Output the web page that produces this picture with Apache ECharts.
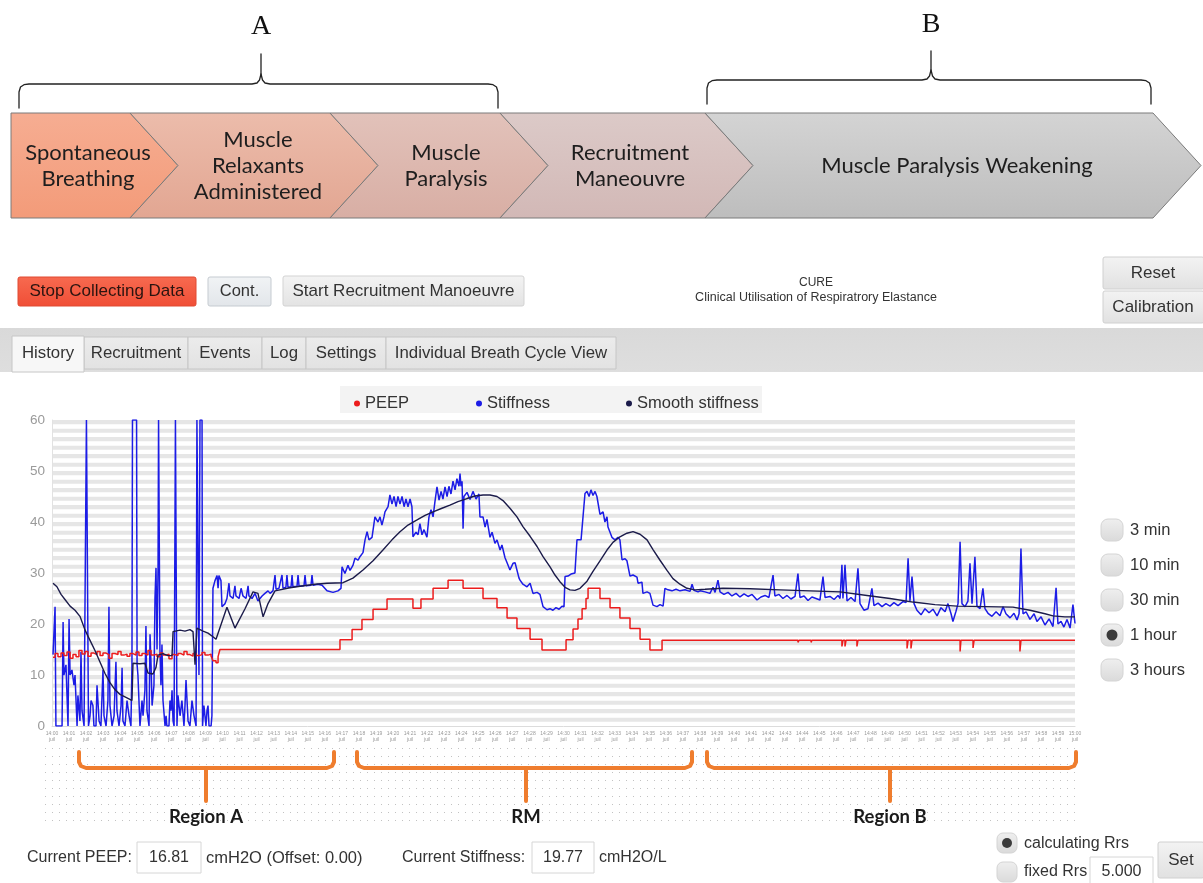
<!DOCTYPE html>
<html><head><meta charset="utf-8">
<script src="https://cdn.jsdelivr.net/npm/echarts@6/dist/echarts.min.js"></script>
<style>html,body{margin:0;padding:0;background:#fff}#c{width:1203px;height:883px}</style>
</head><body><div id="c"></div><script>
// ---------------- DATA (x = minutes into the 1-hour window, y = cmH2O or cmH2O/L) ----------------
const yTicks = [0, 10, 20, 30, 40, 50, 60];
const seriesNames = ['PEEP', 'Stiffness', 'Smooth stiffness'];

const stiffRegionA = [[0.06,14],[0.18,23.4],[0.23,0],[0.59,0],[0.65,20.4],[0.70,10],[0.82,12],[0.94,0],[1.00,21],[1.06,10],[1.17,11],[1.29,8],[1.35,10],[1.47,0],[1.52,6],[1.64,1],[1.70,14.5],[1.76,3],[1.88,0],[1.99,0],[2.02,60],[2.11,60],[2.14,0],[2.23,2],[2.29,5],[2.40,4],[2.46,0],[2.58,0],[2.64,8],[2.76,1],[2.87,0],[2.99,11],[3.05,2],[3.17,0],[3.28,5],[3.34,23.4],[3.40,4],[3.52,0],[3.64,2],[3.75,12.6],[3.81,3],[3.93,0],[4.05,4],[4.11,11.4],[4.16,1],[4.28,0],[4.40,5],[4.52,2],[4.63,0],[4.69,12],[4.72,60],[4.96,60],[4.99,12],[5.04,10],[5.16,0],[5.28,5],[5.34,2],[5.45,7],[5.51,19.6],[5.57,3],[5.69,0],[5.75,18],[5.81,12],[5.87,4],[5.98,8],[6.04,25],[6.10,31],[6.16,15],[6.22,31],[6.25,60],[6.30,60],[6.33,15],[6.39,8],[6.45,16],[6.51,5],[6.63,0],[6.69,2],[6.74,0],[6.86,0],[6.92,5],[6.98,3],[7.04,7],[7.10,1],[7.16,0],[7.21,0],[7.24,60],[7.30,60],[7.33,0],[7.39,6],[7.51,2],[7.62,5],[7.74,0],[7.80,4],[7.86,9],[7.98,1],[8.09,0],[8.21,5],[8.33,2],[8.45,0],[8.50,60],[8.56,60],[8.62,10],[8.68,60],[8.80,60],[8.83,0],[8.91,4],[9.03,0],[9.09,3],[9.15,4],[9.21,0],[9.33,0],[9.38,2],[9.44,27]];
const stiffRM = [[9.56,28.5],[9.68,29.5],[9.74,27],[9.79,29.5],[9.91,28.5],[9.97,23.4],[10.15,24],[10.26,25],[10.38,28],[10.44,25.5],[10.62,25],[10.73,27.5],[10.79,25.5],[10.97,25],[11.09,27],[11.20,25.5],[11.38,25],[11.50,27.5],[11.55,25.5],[11.73,25],[11.91,26],[12.08,24.5],[12.32,25.5],[12.49,26],[12.67,26.5],[12.79,26],[12.96,26.5],[13.08,29.6],[13.14,26.8],[13.31,27],[13.49,29.6],[13.55,27],[13.72,27.2],[13.78,29.6],[13.84,27.2],[14.02,27.3],[14.08,29.6],[14.13,27.3],[14.37,27.4],[14.43,29.6],[14.49,27.4],[14.78,27.5],[14.84,29.6],[14.90,27.5],[15.19,27.6],[15.25,29.6],[15.31,27.6],[15.60,27.8],[15.84,27.6],[16.13,26.5],[16.48,26.2],[16.77,26.5],[16.95,27],[17.01,31.2],[17.18,29.9],[17.36,31.5],[17.48,30.5],[17.65,31.5],[17.77,32.9],[17.95,32.5],[18.06,33.2],[18.24,34],[18.36,36.5],[18.48,38.1],[18.59,36.5],[18.77,37],[18.94,41],[19.12,40],[19.24,41],[19.35,39.4],[19.47,41],[19.53,42],[19.71,43],[19.82,45.3],[19.94,43.5],[20.06,45],[20.18,43],[20.29,45],[20.41,43.5],[20.53,45],[20.65,43],[20.76,44.5],[20.88,43],[21.00,44.5],[21.11,43],[21.17,37.1],[21.35,38],[21.47,37.5],[21.58,39.7],[21.70,37.5],[21.82,38.5],[21.99,37],[22.11,41],[22.23,42.4],[22.35,41],[22.46,44],[22.58,46.9],[22.70,44.3],[22.82,46],[22.93,44.5],[23.05,46.9],[23.17,45],[23.28,47],[23.40,45.5],[23.52,48],[23.64,46.3],[23.75,48.5],[23.87,47],[23.93,49.5],[23.99,47],[24.05,48],[24.11,38.7],[24.16,45],[24.34,45.8],[24.52,44.4],[24.69,46],[24.87,44.5],[25.04,45.5],[25.10,41],[25.28,41],[25.40,39],[25.51,40.5],[25.69,37],[25.81,38],[25.98,35.8],[26.10,36.5],[26.28,34.5],[26.39,35.5],[26.57,33],[26.69,32],[26.86,30.6],[27.04,31.9],[27.16,32],[27.27,31.9],[27.39,29],[27.45,28.6],[27.62,27.8],[27.86,27.3],[28.04,28],[28.21,26],[28.45,26.2],[28.62,25.8],[28.80,23.4],[29.03,22.8],[29.21,23],[29.38,22.7],[29.56,23.2],[29.74,22.9],[29.91,23.5],[30.03,23.4],[30.09,29.3],[30.26,29.4],[30.44,29.8],[30.67,30],[30.79,36.5],[31.03,36.5],[31.14,36.8],[31.26,45.6],[31.38,46],[31.50,45],[31.61,46.3],[31.73,45.2],[31.85,46],[31.96,45],[32.14,41.5],[32.32,42],[32.43,40],[32.55,41],[32.61,39],[32.84,37],[33.02,36.5],[33.20,37],[33.31,36.5],[33.43,32.6],[33.61,32.8],[33.72,32.4],[33.90,29.4],[34.08,29.6],[34.31,29.2],[34.37,28],[34.60,28.2],[34.66,26],[34.90,26.3],[35.07,26],[35.25,23.7],[35.48,23.4],[35.66,23.8],[35.84,23.5],[35.95,27],[36.13,26.7],[36.36,26.5],[36.60,26.8],[36.83,26.5],[37.13,26.7],[37.42,26.4],[37.54,27.8],[37.65,26.6],[37.89,26.3]];
const stiffRegionB = [[38.01,26.5],[38.30,26.3],[38.59,26.0],[38.77,27.2],[38.89,26.2],[39.06,28.6],[39.18,26.3],[39.41,25.8],[39.65,26.2],[39.88,25.5],[40.12,26.0],[40.35,25.3],[40.59,25.9],[40.82,25.4],[41.06,25.8],[41.35,24.7],[41.58,25.3],[41.82,25.6],[42.05,25.2],[42.29,29.6],[42.40,25.5],[42.64,25.8],[42.87,25.0],[43.11,25.6],[43.34,24.9],[43.58,25.4],[43.75,29.9],[43.87,25.2],[44.11,25.5],[44.34,24.6],[44.57,25.3],[44.81,25.0],[45.04,24.7],[45.22,29.3],[45.34,25.2],[45.63,25.4],[45.87,24.8],[46.10,25.6],[46.22,25.0],[46.33,31.6],[46.39,25],[46.51,31.6],[46.63,24.5],[46.86,25.2],[47.10,24.4],[47.27,30.9],[47.39,24],[47.62,22.7],[47.86,23.0],[48.09,27.0],[48.21,23.6],[48.45,24.1],[48.68,23.4],[48.91,24.0],[49.15,23.5],[49.38,24.2],[49.62,23.6],[49.91,24.4],[50.09,24.2],[50.21,32.9],[50.32,24.5],[50.44,29.3],[50.56,24],[50.73,22.7],[50.97,21.8],[51.20,23.0],[51.44,22.2],[51.67,22.9],[51.91,21.6],[52.14,23.2],[52.38,22.4],[52.55,24.0],[52.73,22.0],[52.84,20.5],[53.02,22.5],[53.14,24],[53.26,36.1],[53.37,24],[53.55,23.4],[53.72,24.5],[53.84,31.9],[53.96,24],[54.13,33.2],[54.25,23.5],[54.43,23.0],[54.60,27.0],[54.72,23],[54.90,22.1],[55.13,21.5],[55.37,22.4],[55.60,21.6],[55.78,23.4],[55.95,22.0],[56.19,21.2],[56.42,22.1],[56.60,20.8],[56.72,22],[56.83,34.8],[56.95,22],[57.13,22.4],[57.36,20.9],[57.60,22.0],[57.77,20.5],[58.01,21.4],[58.24,19.8],[58.48,21.0],[58.71,19.5],[58.89,27.1],[59.00,20],[59.18,20.5],[59.35,19.4],[59.53,20.9],[59.71,19.2],[59.88,23.8],[60.00,20.1]];
const smoothStiffness = [[0.06,28],[0.29,27.3],[0.53,25.8],[0.76,24.8],[1.06,23.5],[1.35,22.7],[1.64,21.5],[1.94,18.8],[2.23,16.8],[2.52,14.8],[2.82,12.5],[3.11,10.3],[3.40,8.5],[3.70,7.1],[3.99,6.2],[4.28,5.7],[4.57,5.2],[4.69,5.0],[4.75,12.3],[5.16,12.2],[5.45,12.3],[5.63,10.4],[5.92,10.2],[6.10,11.5],[6.22,13.9],[6.51,14.2],[6.80,13.8],[7.04,13.8],[7.10,18.5],[7.51,18.8],[7.80,18.6],[8.09,18.9],[8.27,18.5],[8.39,12],[8.50,19.2],[8.86,18.6],[9.15,18.2],[9.44,17.5],[9.62,17.0],[10.26,23.3],[10.73,19.2],[11.32,23],[11.79,26.3],[12.08,26],[12.38,21.4],[12.67,24],[13.08,26.5],[13.96,27.1],[14.55,27.4],[15.43,27.8],[16.13,28],[17.07,28.1],[17.65,29],[18.24,30.6],[18.83,32.4],[19.41,34.5],[19.94,36.5],[20.41,38.1],[20.88,39.4],[21.41,40.4],[21.88,41.3],[22.35,42],[22.87,42.7],[23.34,43.3],[23.81,44],[24.34,44.6],[24.81,45.1],[25.28,45.3],[25.69,45.3],[26.10,45],[26.45,44.2],[26.86,42.7],[27.27,41],[27.62,39.1],[28.04,37.2],[28.45,35.2],[28.80,33.2],[29.21,31.2],[29.50,29.6],[29.79,28.3],[30.09,27.2],[30.38,26.7],[30.67,26.6],[30.97,27],[31.38,28.4],[31.73,30.3],[32.14,32.4],[32.55,34.5],[32.90,36],[33.31,37.1],[33.72,37.8],[34.08,38.1],[34.49,37.6],[34.90,36.5],[35.25,34.6],[35.66,32.5],[36.07,30.5],[36.42,28.9],[36.83,27.8],[37.24,27.0],[37.71,26.7],[38.30,26.8],[39.35,27.0],[40.94,26.9],[42.70,26.7],[44.46,26.5],[46.22,26.3],[47.80,25.6],[49.15,25],[50.50,24.3],[51.79,23.8],[53.08,23.5],[54.72,23.4],[56.36,23.3],[57.36,22.7],[58.24,22],[58.71,21.6],[59.41,21.4],[60.00,21.4]];
const peep = [[0.06,13.5],[0.18,14.2],[0.35,13.6],[0.53,14.3],[0.70,13.8],[0.88,14.5],[1.06,13.3],[1.23,14],[1.41,13.6],[1.58,14.8],[1.76,14.1],[1.94,14.6],[2.11,13.7],[2.29,14.3],[2.46,14],[2.64,14.6],[2.82,13.8],[2.99,14.3],[3.17,14],[3.34,13.3],[3.52,14.2],[3.70,14],[3.87,14.6],[4.05,13.9],[4.22,14.1],[4.40,13.7],[4.57,14.2],[4.75,13.9],[4.93,14.5],[5.10,13.8],[5.28,14.2],[5.45,13.9],[5.63,14.8],[5.81,13.9],[5.98,14.1],[6.16,13.6],[6.33,14.3],[6.51,13.9],[6.69,14.1],[6.86,13.2],[7.04,14],[7.21,13.8],[7.39,14.2],[7.57,13.9],[7.74,14.6],[7.92,14],[8.09,13.7],[8.27,14.2],[8.45,13.8],[8.62,14],[8.80,14.4],[8.97,13.9],[9.15,14.1],[9.33,13.7],[9.44,12.8],[9.62,12.4],[9.74,13.6],[9.85,15.0],[16.89,16.9],[17.60,18.9],[18.18,20.9],[18.83,22.9],[19.65,24.9],[21.17,23.1],[21.64,24.9],[22.35,27.0],[23.23,28.6],[24.11,27.0],[25.28,25.0],[26.10,23.2],[26.69,21.2],[27.27,19.1],[28.04,17.0],[28.74,14.9],[30.15,16.9],[30.56,19.0],[30.85,21.0],[31.09,23.0],[31.32,25.0],[31.44,27.0],[32.14,25.0],[32.73,23.2],[33.31,21.2],[33.90,19.1],[34.49,17.0],[35.07,14.9],[35.78,16.8],[42.29,16.5],[42.35,16.8],[43.75,16.4],[43.81,16.8],[44.52,16.4],[44.57,16.8],[45.10,16.5],[45.16,16.8],[46.33,15.6],[46.39,16.8],[46.51,15.6],[46.57,16.8],[47.21,15.6],[47.27,16.8],[50.15,15.2],[50.21,16.8],[50.38,15.2],[50.44,16.8],[53.26,14.6],[53.31,16.8],[54.02,15.3],[54.08,16.8],[56.77,14.6],[56.83,16.8],[60,16.8]];
const stiffness = stiffRegionA.concat(stiffRM, stiffRegionB);

const phaseLabels = ['Spontaneous\nBreathing', 'Muscle\nRelaxants\nAdministered', 'Muscle\nParalysis', 'Recruitment\nManeouvre', 'Muscle Paralysis Weakening'];
const tabs = ['History', 'Recruitment', 'Events', 'Log', 'Settings', 'Individual Breath Cycle View'];
const ranges = ['3 min', '10 min', '30 min', '1 hour', '3 hours'];
const regionLabels = ['Region A', 'RM', 'Region B'];

// ---------------- LAYOUT ----------------
const UI = 'Liberation Sans, Arial, sans-serif';
const CAL = 'Lato, Open Sans, sans-serif';
const els = [];
function grad(c1, c2) { return {type:'linear', x:0, y:0, x2:0, y2:1, colorStops:[{offset:0, color:c1},{offset:1, color:c2}]}; }
function txt(x, y, s, size, opt) {
  opt = opt || {};
  els.push({type:'text', x:x, y:y, z:10, style:{text:s, fill:opt.fill||'#333', fontSize:size, fontFamily:opt.font||UI,
    fontWeight:opt.weight||'normal', align:opt.align||'left', textAlign:opt.align||'left', verticalAlign:'middle', textVerticalAlign:'middle', lineHeight:opt.lh||size*1.2}});
}
function rect(x, y, w, h, fill, stroke, r, z) {
  els.push({type:'rect', z:z||5, shape:{x:x, y:y, width:w, height:h, r:r||0}, style:{fill:fill, stroke:stroke||null, lineWidth:1}});
}
function pline(pts, color, w, z) {
  els.push({type:'polyline', z:z||10, shape:{points:pts}, style:{stroke:color, lineWidth:w, fill:null, lineCap:'round', lineJoin:'round'}});
}

// Chevrons
const chev = [[11,130,false],[130,330,true],[330,500,true],[500,705,true],[705,1153,true]];
const chevFill = [['#f6ad92','#f39b79'],['#ecbcab','#e2a692'],['#e2c2ba','#d8aea4'],['#dccac8','#d2b8b6'],['#d4d4d4','#bdbdbd']];
const chevTextX = [88, 258, 446, 630, 957];
const chevTop = 113, chevBot = 218, chevMid = 165.5, chevTip = 48;
chev.forEach((c, i) => {
  const pts = [[c[0], chevTop], [c[1], chevTop], [c[1] + chevTip, chevMid], [c[1], chevBot], [c[0], chevBot]];
  if (c[2]) pts.push([c[0] + chevTip, chevMid]);
  els.push({type:'polygon', z:3, shape:{points:pts}, style:{fill:grad(chevFill[i][0], chevFill[i][1]), stroke:'#7a7a7a', lineWidth:1}});
  txt(chevTextX[i], chevMid, phaseLabels[i], 22, {font:CAL, fill:'#1e1e1e', align:'center', lh:26});
});
// Curly braces A and B
function curly(x1, x2, xc, yh, yend, ytop) {
  pline([[x1,yend],[x1,yh+8],[x1+1.5,yh+3],[x1+5,yh+0.7],[x1+10,yh],[xc-9,yh],[xc-4,yh-1],[xc-1.5,yh-4],[xc,yh-10],[xc,ytop]], '#222', 1.3);
  pline([[xc,yh-10],[xc+1.5,yh-4],[xc+4,yh-1],[xc+9,yh],[x2-10,yh],[x2-5,yh+0.7],[x2-1.5,yh+3],[x2,yh+8],[x2,yend]], '#222', 1.3);
}
curly(19, 498, 261, 84, 108, 54);
curly(707, 1151, 931, 80, 104, 51);
txt(261, 27, 'A', 28, {font:'Liberation Serif, DejaVu Serif, serif', fill:'#111', align:'center'});
txt(931, 25, 'B', 28, {font:'Liberation Serif, DejaVu Serif, serif', fill:'#111', align:'center'});

// Top buttons
rect(18, 277, 178, 29, grad('#f76a50','#f04e36'), '#e04a32', 2);
txt(107, 291.5, 'Stop Collecting Data', 17, {align:'center', fill:'#2a1410'});
rect(208, 277, 63, 29, grad('#f1f3f5','#e2e6ea'), '#c5cbd1', 2);
txt(239.5, 291.5, 'Cont.', 16.5, {align:'center', fill:'#333'});
rect(283, 276, 241, 30, grad('#f3f3f3','#e3e3e3'), '#d3d3d3', 2);
txt(403.5, 291, 'Start Recruitment Manoeuvre', 17, {align:'center', fill:'#333'});
txt(816, 283, 'CURE', 12, {align:'center', fill:'#333'});
txt(816, 297.5, 'Clinical Utilisation of Respiratrory Elastance', 12.5, {align:'center', fill:'#333'});
rect(1103, 257, 101, 32, grad('#f3f3f3','#e1e1e1'), '#d0d0d0', 2);
txt(1153, 273, 'Reset', 17, {align:'center'});
rect(1103, 291, 101, 32, grad('#f3f3f3','#e1e1e1'), '#d0d0d0', 2);
txt(1153, 307, 'Calibration', 17, {align:'center'});

// Tab bar
rect(0, 328, 1203, 44, grad('#d9d9d9','#dedede'), null, 0, 2);
const tabX = [12, 84, 188, 262, 306, 386, 616];
tabs.forEach((t, i) => {
  const sel = i === 0;
  rect(tabX[i], sel ? 336 : 337, tabX[i+1] - tabX[i], sel ? 36 : 32, sel ? '#f7f7f7' : grad('#ececec','#e2e2e2'), '#c6c6c6', 0, sel ? 6 : 4);
  txt((tabX[i] + tabX[i+1]) / 2, 353.5, t, 16.8, {align:'center', fill:'#333'});
});

// Legend background
rect(340, 386, 422, 27, '#f3f3f3', null, 0, 1);

// Dotted band under the x axis (canvas pattern)
const pc = document.createElement('canvas'); pc.width = 7; pc.height = 8;
const pctx = pc.getContext('2d'); pctx.fillStyle = '#c2c2c2'; pctx.fillRect(3, 4, 1, 1);
els.push({type:'rect', z:0, shape:{x:44, y:748, width:1034, height:80}, style:{fill:{image:pc, repeat:'repeat'}}});

// Orange region braces
const regs = [[79, 334, 206], [357, 692, 526], [707, 1076, 890]];
regs.forEach((r, i) => {
  pline([[r[0],752],[r[0],762],[r[0]+2,766],[r[0]+7,768],[r[1]-7,768],[r[1]-2,766],[r[1],762],[r[1],752]], '#ef7d2e', 4);
  pline([[r[2],768],[r[2],801]], '#ef7d2e', 4);
  txt(r[2], 817, regionLabels[i], 18.5, {font:CAL, weight:'bold', align:'center', fill:'#1a1a1a'});
});

// Time range radio buttons
ranges.forEach((r, i) => {
  const y = 530 + i * 35;
  rect(1101, y - 11, 22, 22, grad('#efefef','#dadada'), '#d4d4d4', 7);
  if (r === '1 hour') els.push({type:'circle', z:8, shape:{cx:1112, cy:y, r:5.5}, style:{fill:'#3b3b3b'}});
  txt(1130, y + 0.5, r, 16.5, {fill:'#333'});
});

// Bottom status fields
txt(27, 858, 'Current PEEP:', 16);
rect(137, 842, 64, 31, '#ffffff', '#d6d6d6', 0);
txt(169, 858, '16.81', 16, {align:'center'});
txt(206, 858, 'cmH2O (Offset: 0.00)', 16.5);
txt(402, 858, 'Current Stiffness:', 16);
rect(532, 842, 62, 31, '#ffffff', '#d6d6d6', 0);
txt(563, 858, '19.77', 16, {align:'center'});
txt(599, 858, 'cmH2O/L', 16);
rect(997, 833, 20, 20, grad('#efefef','#dadada'), '#d4d4d4', 6);
els.push({type:'circle', z:8, shape:{cx:1007, cy:843, r:5}, style:{fill:'#3b3b3b'}});
txt(1024, 844, 'calculating Rrs', 16);
rect(997, 862, 20, 20, grad('#efefef','#dadada'), '#d4d4d4', 6);
txt(1024, 872, 'fixed Rrs', 16);
rect(1090, 857, 63, 28, '#ffffff', '#d6d6d6', 0);
txt(1121.5, 872, '5.000', 16, {align:'center'});
rect(1158, 842, 46, 36, grad('#f3f3f3','#e1e1e1'), '#d0d0d0', 2);
txt(1181, 860, 'Set', 17, {align:'center'});

// ---------------- CHART ----------------
const chart = echarts.init(document.getElementById('c'), null, {renderer:'canvas'});
const legendBase = {icon:'circle', itemWidth:6, itemHeight:6, top:390, textStyle:{fontSize:16.5, color:'#333', fontFamily:UI}, selectedMode:false};
chart.setOption({
  animation:false,
  backgroundColor:'#ffffff',
  grid:{left:52, right:128, top:420, bottom:157},
  legend:[
    Object.assign({data:[seriesNames[0]], left:349}, legendBase),
    Object.assign({data:[seriesNames[1]], left:471}, legendBase),
    Object.assign({data:[seriesNames[2]], left:621}, legendBase)
  ],
  xAxis:{type:'value', min:0, max:60, interval:1,
    axisLine:{show:true, lineStyle:{color:'#dcdcdc', width:1}}, axisTick:{show:false}, splitLine:{show:false},
    axisLabel:{fontSize:5, color:'#999', lineHeight:6, margin:5, fontFamily:UI,
      formatter:v => { const h = 14 + Math.floor(v / 60), m = v % 60; return h + ':' + String(m).padStart(2,'0') + '\n' + 'juil'; }}},
  yAxis:[
    {type:'value', min:yTicks[0], max:yTicks[yTicks.length-1], interval:10,
      axisLine:{show:true, lineStyle:{color:'#e2e2e2'}}, axisTick:{show:false}, splitLine:{show:false},
      axisLabel:{color:'#9a9a9a', fontSize:13.5, fontFamily:UI, margin:7}},
    {type:'value', min:0, max:72, interval:1, position:'left',
      axisLine:{show:false}, axisTick:{show:false}, axisLabel:{show:false}, splitLine:{show:false},
      splitArea:{show:true, areaStyle:{color:['#ffffff','#e6e6e6']}}}
  ],
  series:[
    {name:seriesNames[1], type:'line', data:stiffness, showSymbol:false, symbol:'circle', color:'#1c1ce6',
      lineStyle:{color:'#1c1ce6', width:1.5}, z:2},
    {name:seriesNames[0], type:'line', data:peep, step:'end', showSymbol:false, symbol:'circle', color:'#ec1c1c',
      lineStyle:{color:'#ec1c1c', width:1.5}, z:3},
    {name:seriesNames[2], type:'line', data:smoothStiffness, showSymbol:false, symbol:'circle', color:'#1b1b4a',
      lineStyle:{color:'#1b1b4a', width:1.4}, z:4}
  ],
  graphic:{elements:els}
});
</script></body></html>
